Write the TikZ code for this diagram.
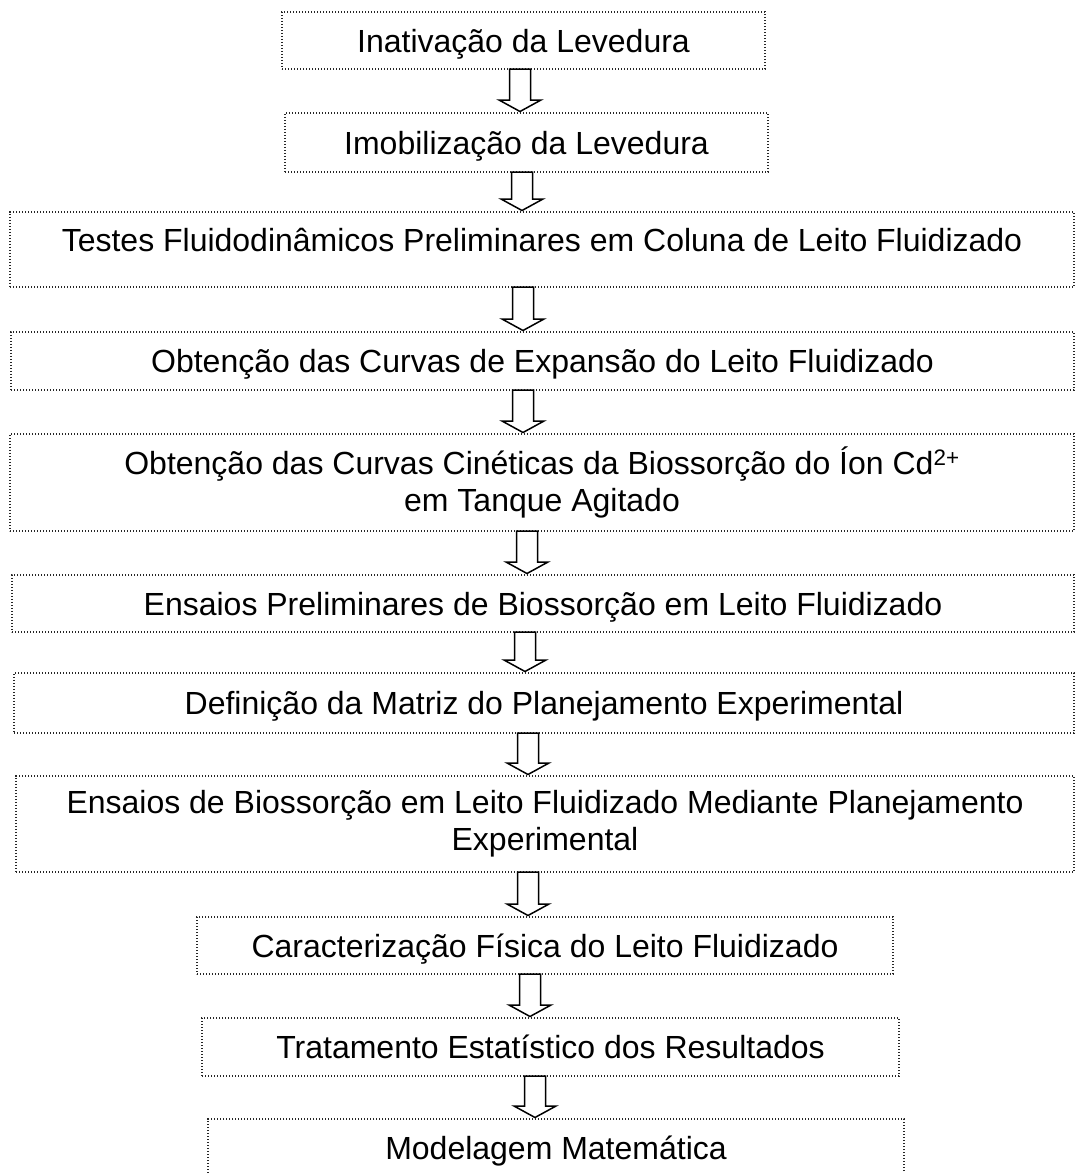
\documentclass[tikz,border=0pt]{standalone}
\usepackage{fontspec}
\setmainfont{Liberation Sans}
\usetikzlibrary{calc}
\tikzset{
  stepbox/.style={draw=black!85, line width=1.3pt, dash pattern=on 1.3pt off 1.7pt,
    rectangle, inner sep=0pt, outer sep=0pt, align=center,
    font=\fontsize{32pt}{37pt}\selectfont},
  oneline/.style={text height=23pt, text depth=0pt},
  arrowshape/.style={draw=black, fill=white, line width=1.5pt, line join=miter}
}
\newcommand\flowarrow[3]{%
  \draw[arrowshape] let \p1=(#1.south), \p2=(#2.north) in
    (#3pt-10.5pt,\y1) -- (#3pt+10.5pt,\y1) -- (#3pt+10.5pt,\y2+13pt)
    -- (#3pt+21pt,\y2+13pt) -- (#3pt,\y2+1.5pt) -- (#3pt-21pt,\y2+13pt)
    -- (#3pt-10.5pt,\y2+13pt) -- cycle;}
\begin{document}
\begin{tikzpicture}[x=1pt,y=-1pt]
\useasboundingbox (0,0) rectangle (1075,1173);
\node[stepbox,oneline,minimum width=483pt,minimum height=57pt] (b1) at (523.5,40.5) {Inativação da Levedura};
\node[stepbox,oneline,minimum width=483pt,minimum height=59pt] (b2) at (526.5,142.5) {Imobilização da Levedura};
\node[stepbox,text height=23pt,text depth=19pt,minimum width=1064pt,minimum height=75pt] (b3) at (542,249.5) {Testes Fluidodinâmicos Preliminares em Coluna de Leito Fluidizado};
\node[stepbox,oneline,minimum width=1063pt,minimum height=58pt] (b4) at (542.5,361) {Obtenção das Curvas de Expansão do Leito Fluidizado};
\node[stepbox,minimum width=1064pt,minimum height=97pt] (b5) at (542,482.5) {Obtenção das Curvas Cinéticas da Biossorção do Íon Cd\textsuperscript{2+}\\em Tanque Agitado};
\node[stepbox,oneline,minimum width=1062pt,minimum height=57pt] (b6) at (543,603.5) {Ensaios Preliminares de Biossorção em Leito Fluidizado};
\node[stepbox,oneline,minimum width=1060pt,minimum height=60pt] (b7) at (544,703) {Definição da Matriz do Planejamento Experimental};
\node[stepbox,minimum width=1058pt,minimum height=96pt] (b8) at (545,824) {Ensaios de Biossorção em Leito Fluidizado Mediante Planejamento\\Experimental};
\node[stepbox,oneline,minimum width=696pt,minimum height=57pt] (b9) at (545,945.5) {Caracterização Física do Leito Fluidizado};
\node[stepbox,oneline,minimum width=697pt,minimum height=58pt] (b10) at (550.5,1047) {Tratamento Estatístico dos Resultados};
\node[stepbox,oneline,minimum width=696pt,minimum height=58pt] (b11) at (556,1148) {Modelagem Matemática};
\flowarrow{b1}{b2}{520}
\flowarrow{b2}{b3}{522}
\flowarrow{b3}{b4}{523}
\flowarrow{b4}{b5}{523}
\flowarrow{b5}{b6}{527}
\flowarrow{b6}{b7}{525}
\flowarrow{b7}{b8}{528}
\flowarrow{b8}{b9}{528}
\flowarrow{b9}{b10}{530}
\flowarrow{b10}{b11}{535}
\end{tikzpicture}
\end{document}
